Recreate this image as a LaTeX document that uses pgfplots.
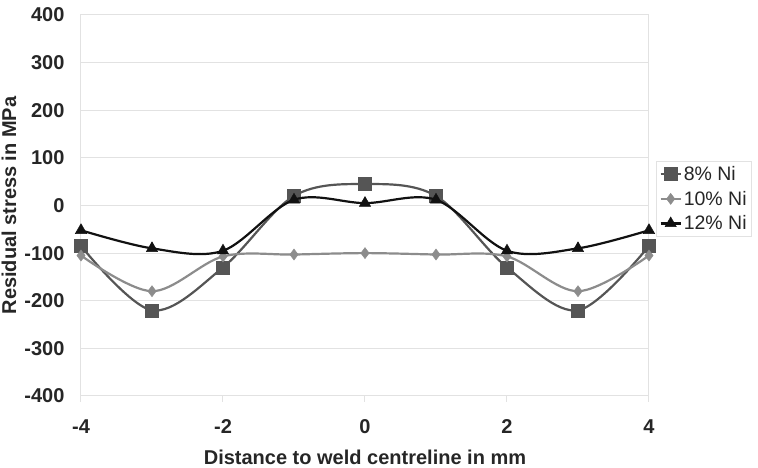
\documentclass[border=0pt]{standalone}
\usepackage{pgfplots}
\pgfplotsset{compat=1.18}
\usepackage{fontspec}
\setmainfont{Liberation Sans}
\definecolor{ser1}{HTML}{555555}
\definecolor{ser2}{HTML}{8C8C8C}
\definecolor{ser3}{HTML}{111111}
\definecolor{gridc}{HTML}{E2E2E2}
\begin{document}
\begin{tikzpicture}
\begin{axis}[
  at={(81pt,72pt)}, anchor=south west,
  scale only axis, width=568pt, height=381pt,
  xmin=-4, xmax=4, ymin=-400, ymax=400,
  xtick={-4,-2,0,2,4}, ytick={-400,-300,...,400},
  ymajorgrids, grid style={gridc, line width=1pt},
  axis line style={gridc, line width=1pt},
  tick style={gridc, line width=1pt},
  xtick pos=bottom, ytick pos=left,
  xtick align=outside, ytick style={draw=none},
  major tick length=6pt,
  /pgf/number format/assume math mode=true,
  ticklabel style={font=\fontsize{20}{24}\selectfont\bfseries, text=black!85},
  xticklabel style={yshift=-14pt},
  yticklabel style={xshift=-13pt},
  xlabel={Distance to weld centreline in mm},
  ylabel={Residual stress in MPa},
  label style={font=\fontsize{20}{24}\selectfont\bfseries, text=black!85},
  xlabel style={at={(axis description cs:0.5,-0.181)}, anchor=base},
  ylabel style={at={(axis description cs:-0.1144,0.5)}, anchor=base},
  clip mode=individual,
  legend style={at={(axis description cs:1.0125,0.617)}, anchor=north west,
    draw=gridc, line width=1pt, font=\fontsize{19.5}{23}\selectfont, text=black!85,
    inner xsep=3pt, inner ysep=3pt, row sep=5pt},
  legend image code/.code={\draw[#1, line width=2.2pt, mark=none] plot coordinates {(0pt,0pt) (20pt,0pt)};
    \draw[#1, line width=0.5pt, only marks] plot coordinates {(10pt,0pt)};},
  legend cell align=left,
]
\addplot[ser1, line width=2.2pt, smooth, tension=0.55, mark=square*, mark size=6.5pt, mark options={fill=ser1, line width=0.5pt}]
coordinates {(-4,-85) (-3,-220) (-2,-130) (-1,20) (0,45) (1,20) (2,-130) (3,-220) (4,-85)};
\addlegendentry{8\% Ni}
\addplot[ser2, line width=2.2pt, smooth, tension=0.55, mark=diamond*, mark size=5.5pt, mark options={fill=ser2, line width=0.5pt}]
coordinates {(-4,-105) (-3,-180) (-2,-107) (-1,-103) (0,-100) (1,-103) (2,-107) (3,-180) (4,-105)};
\addlegendentry{10\% Ni}
\addplot[ser3, line width=2.2pt, smooth, tension=0.55, mark=triangle*, mark size=6.5pt, mark options={fill=ser3, line width=0.5pt}]
coordinates {(-4,-52) (-3,-90) (-2,-95) (-1,12) (0,5) (1,12) (2,-95) (3,-90) (4,-52)};
\addlegendentry{12\% Ni}
\end{axis}
\pgfresetboundingbox
\path[use as bounding box] (0,0) rectangle (758pt,468pt);
\end{tikzpicture}
\end{document}
